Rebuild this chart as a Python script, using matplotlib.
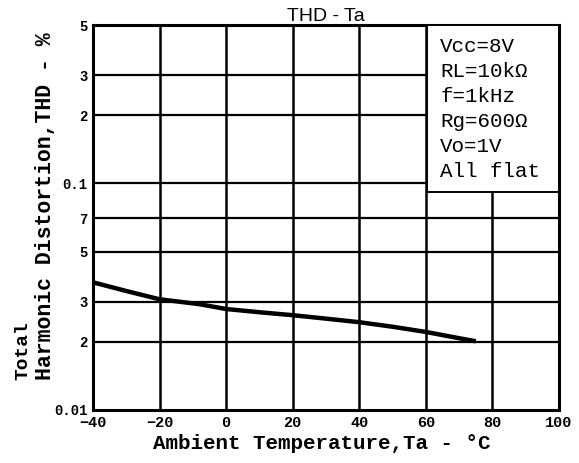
import numpy as np
import matplotlib.pyplot as plt
from matplotlib.ticker import FixedLocator, NullLocator
from matplotlib.patches import Rectangle

temp = [-40, -30, -20, -8, 0, 10, 20, 30, 40, 50, 60, 68, 75]
thd = [0.0366, 0.0335, 0.0308, 0.0293, 0.0279, 0.0270, 0.0262, 0.0253, 0.0244, 0.0233, 0.0221, 0.0210, 0.0201]

yticks = [0.01, 0.02, 0.03, 0.05, 0.07, 0.1, 0.2, 0.3, 0.5]
ytick_labels = ['0.01', '2', '3', '5', '7', '0.1', '2', '3', '5']
xticks = [-40, -20, 0, 20, 40, 60, 80, 100]

condiciones = 'Vcc=8V\nRL=10kΩ\nf=1kHz\nRg=600Ω\nVo=1V\nAll flat'

mono = ['Liberation Mono', 'DejaVu Sans Mono']

fig = plt.figure(figsize=(5.79, 4.63), dpi=100)
ax = fig.add_axes([0.1606, 0.1145, 0.8049, 0.8315])

ax.plot(temp, thd, color='black', linewidth=3.2, solid_capstyle='butt', zorder=3)

ax.set_yscale('log')
ax.set_xlim(-40, 100)
ax.set_ylim(0.01, 0.5)

ax.yaxis.set_major_locator(FixedLocator(yticks))
ax.yaxis.set_minor_locator(NullLocator())
ax.set_yticklabels(ytick_labels, fontfamily=mono, fontweight='bold', fontsize=10)
ax.set_xticks(xticks)
ax.set_xticklabels([str(t) if t >= 0 else '\u2212' + str(-t) for t in xticks],
                   fontfamily=mono, fontweight='bold', fontsize=11)
ax.tick_params(length=0, pad=4)

# Cuadricula
for y in yticks[1:-1]:
    ax.axhline(y, color='black', linewidth=1.6, zorder=1)
for x in xticks[1:-1]:
    ax.axvline(x, color='black', linewidth=1.8, zorder=1)

for s in ax.spines.values():
    s.set_linewidth(2.2)

# Caja con las condiciones
ax.add_patch(Rectangle((0.717, 0.565), 0.283, 0.435, transform=ax.transAxes,
                       facecolor='white', edgecolor='black', linewidth=1.4, zorder=4))
ax.text(0.745, 0.97, condiciones, transform=ax.transAxes, ha='left', va='top',
        fontfamily=mono, fontsize=15, linespacing=1.4, zorder=5)

ax.set_title('THD - Ta', fontfamily=['Liberation Sans', 'DejaVu Sans'], fontsize=14, pad=1)

fig.text(0.555, 0.043, 'Ambient Temperature,Ta - °C', ha='center', va='center',
         fontfamily=mono, fontweight='bold', fontsize=15)
fig.text(0.040, 0.18, 'Total', rotation=90, ha='center', va='bottom',
         fontfamily=mono, fontweight='bold', fontsize=14)
fig.text(0.078, 0.18, 'Harmonic Distortion,THD - %', rotation=90, ha='center', va='bottom',
         fontfamily=mono, fontweight='bold', fontsize=15.5)

plt.savefig('out.png')
